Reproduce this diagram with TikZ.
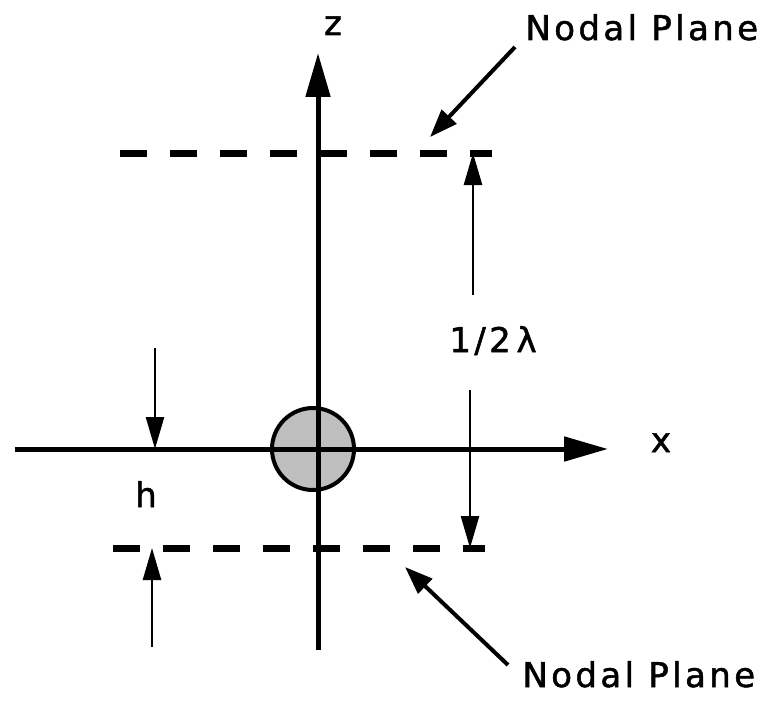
\documentclass[tikz,border=0pt]{standalone}
\usepackage{fontspec}
\setmainfont{DejaVu Sans}[LetterSpace=10, FakeBold=1.5]
\usetikzlibrary{arrows.meta}

\tikzset{
  axis/.style={line width=2.5pt, -{Triangle[length=22pt, width=12pt]}},
  nodal/.style={line width=3.5pt, dash pattern=on 13.5pt off 11.5pt},
  dim/.style={line width=1.3pt, -{Triangle[length=16pt, width=9pt]}},
  pointer/.style={line width=2pt, -{Triangle[length=14pt, width=10pt]}},
  label/.style={font=\fontsize{17}{20}\selectfont, inner sep=0pt}
}

\begin{document}
\begin{tikzpicture}[x=0.5pt, y=-0.5pt]
  \useasboundingbox (0, 0) rectangle (775, 701);

  % Scatterer at the origin
  \node[circle, draw, line width=2pt, fill=black!25, minimum size=41pt, inner sep=0pt] (ball) at (313, 449) {};

  % Axes
  \coordinate (xL) at (15, 449);
  \coordinate (xR) at (608, 449);
  \coordinate (zB) at (318, 650);
  \coordinate (zT) at (318, 53);
  \draw[axis] (xL) -- (xR);
  \draw[axis] (zB) -- (zT);
  \node[label, anchor=base] (xlab) at (661, 452) {x};
  \node[label, anchor=base] (zlab) at (333, 35) {z};

  % Nodal planes
  \coordinate (topL) at (120, 153);
  \coordinate (topR) at (492, 153);
  \coordinate (botL) at (113, 548);
  \coordinate (botR) at (485, 548);
  \draw[nodal] (topL) -- (topR);
  \draw[nodal] (botL) -- (botR);

  % Half wavelength spacing
  \coordinate (lamTop) at (473, 153);
  \coordinate (lamUp) at (473, 295);
  \coordinate (lamDn) at (470, 390);
  \coordinate (lamBot) at (470, 548);
  \draw[dim] (lamUp) -- (lamTop);
  \draw[dim] (lamDn) -- (lamBot);
  \node[label, anchor=base] (lam) at (493, 352) {1/2\,λ};

  % Height h above the lower plane
  \coordinate (hTop) at (155, 348);
  \coordinate (hAxis) at (155, 449);
  \coordinate (hLow) at (152, 647);
  \coordinate (hPlane) at (152, 548);
  \draw[dim] (hTop) -- (hAxis);
  \draw[dim] (hLow) -- (hPlane);
  \node[label, anchor=base] (hlab) at (146, 507) {h};

  % Labels for the planes
  \node[label, anchor=base west] (npTop) at (525, 40) {Nodal Plane};
  \node[label, anchor=base west] (npBot) at (522, 687) {Nodal Plane};
  \coordinate (npTopTail) at (515, 47);
  \coordinate (npTopTip) at (430, 137);
  \coordinate (npBotTail) at (508, 665);
  \coordinate (npBotTip) at (405, 567);
  \draw[pointer] (npTopTail) -- (npTopTip);
  \draw[pointer] (npBotTail) -- (npBotTip);
\end{tikzpicture}
\end{document}
